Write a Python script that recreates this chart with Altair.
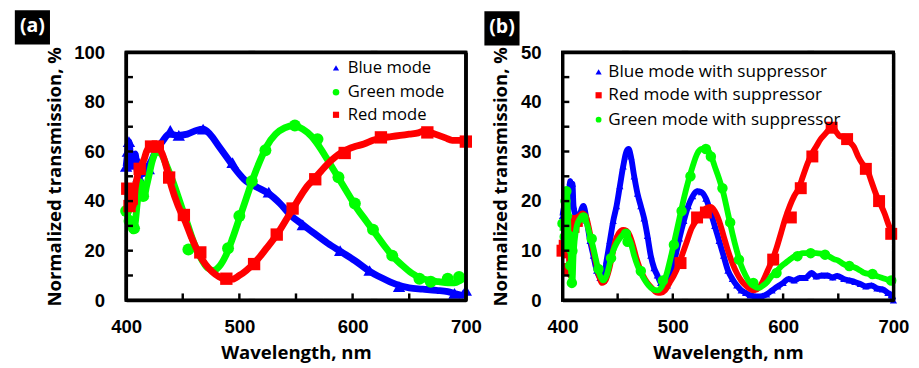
import altair as alt
import pandas as pd

# ---------------- Panel (a) data ----------------
blue_a_line_wl = [400, 401, 402.5, 404, 405, 406.5, 408, 409.5, 411, 414, 418, 422, 426, 432, 438, 446, 454, 462, 468,
                  474, 482, 490, 498, 506, 516, 526, 536, 546, 556, 566, 578, 590, 602, 614, 626, 638, 650, 662, 674,
                  684, 692, 697, 700]
blue_a_line_val = [54, 58, 64, 57, 54, 57, 59, 53, 50, 51, 53, 56, 60, 64, 67, 66.5, 67, 68.5, 69,
                   67, 62, 57, 52, 48, 45.5, 43, 39, 34, 30.5, 27, 23, 19.5, 16, 12, 9, 6.5, 5, 4.5, 4,
                   3.5, 2.5, 2, 3.5]
blue_a_mk_wl = [400, 401.5, 402.5, 404, 406, 408, 411, 415, 420, 439, 446.5, 468, 494, 526, 556, 589, 615, 641, 690, 700]
blue_a_mk_val = [54, 60, 64, 56, 55, 58, 50, 52, 53, 68.5, 66.5, 69, 55.5, 43.6, 30.4, 20, 12, 5.5, 2.8, 4]

green_a_line_wl = [400, 402, 404, 406, 408, 410, 412, 414, 416, 418, 420, 423, 427, 431, 436, 442, 448, 454, 460, 466,
                   472, 477, 482, 488, 494, 500, 506, 512, 518, 524, 532, 540, 548, 556, 564, 572, 580, 588, 596,
                   604, 612, 620, 628, 636, 644, 652, 660, 668, 676, 684, 690, 695, 700]
green_a_line_val = [37, 33, 30, 28, 31, 40, 46, 43, 42, 46, 50, 56, 60, 59, 54, 47, 39, 31, 23, 17,
                    13, 12, 13.5, 18, 25, 33, 41, 49, 56, 62, 67, 69.5, 70.5, 69, 66, 61, 55, 49, 43,
                    37, 32, 27, 22, 17.5, 14, 11, 9, 8, 7.5, 7, 7, 8, 9.5]
green_a_mk_wl = [400, 403, 407, 411, 415, 455, 490, 500, 511, 523, 549, 569, 587.5, 602, 618, 635, 659, 669, 684, 694]
green_a_mk_val = [36, 32, 29, 47, 42, 20.5, 21, 34, 48, 60.5, 70.5, 65, 49.6, 39, 28.5, 18, 8.7, 7.5, 8.7, 9.4]

red_a_line_wl = [400, 401, 402, 403, 404, 405, 406, 407, 408, 410, 412, 414, 416, 418, 420, 424, 428, 432, 436, 440,
                 446, 452, 458, 464, 470, 476, 482, 488, 494, 500, 506, 512, 518, 524, 530, 536, 542, 548, 554,
                 560, 566, 572, 578, 584, 590, 596, 602, 610, 618, 626, 634, 642, 650, 658, 664, 670, 676, 682,
                 688, 694, 700]
red_a_line_val = [44, 46, 42, 40, 43, 41, 38, 40, 45, 50, 53, 55, 57, 60, 61.5, 62, 61.5, 59, 53, 46,
                  38, 32, 25, 19, 14.5, 11.5, 9.5, 8.5, 8.5, 10, 12, 14.5, 17.5, 21, 24.5, 28.5, 33, 37.5, 42,
                  46, 49, 52, 55, 57.5, 59.5, 61, 62, 63, 64.5, 65.5, 66, 66.5, 67, 67.5, 68.5, 67.5, 66.5, 65.5,
                  64.5, 64.5, 64]
red_a_mk_wl = [401, 403, 405, 412, 422, 428, 438, 451, 465.5, 488.5, 513, 533, 547, 567, 593, 625, 666, 700]
red_a_mk_val = [45, 38, 41, 53, 62, 62, 49.5, 34.4, 19.3, 8.7, 14.6, 26.5, 37, 48.8, 59.4, 65.7, 67.7, 64]

# ---------------- Panel (b) data ----------------
blue_b_wl = [400, 402, 404, 405, 406, 407, 408, 409, 410, 412, 414, 416, 419, 422, 425, 428, 431, 434, 437, 440,
             443, 446, 449, 452, 455, 458, 460, 462, 465, 468, 471, 474, 477, 480, 483, 486, 489, 492, 495, 498,
             502, 506, 510, 514, 518, 522, 526, 530, 534, 538, 542, 546, 550, 554, 558, 562, 566, 570, 575, 580,
             585, 590, 595, 600, 605, 610, 615, 620, 626, 630, 635, 640, 645, 649, 655, 660, 665, 670, 675, 680,
             685, 690, 695, 698, 700]
blue_b_val = [17, 19, 14, 20, 22, 24, 20, 23.5, 19, 17, 16, 17.5, 19, 16, 12, 9, 6, 4.5, 4, 8,
              12, 16, 19, 23, 27, 30, 30.5, 29, 25, 21.5, 19, 16.5, 13, 9, 6.5, 5, 3.5, 2.5, 3, 5,
              8.5, 12.5, 16, 19, 21, 22, 21.8, 20.5, 18, 15, 12, 9, 6, 4.3, 3, 2, 1.5, 1, 0.8, 0.8,
              1.2, 2, 2.8, 3.5, 4.3, 4, 4.5, 4.5, 5.5, 4.8, 5, 5, 4.6, 4.9, 4.3, 4, 3.7, 3.3, 2.8, 3,
              2.4, 2.2, 1.5, 1, 0]

red_b_line_wl = [400, 401, 402, 403, 404, 405, 406, 407, 408, 409, 410, 412, 415, 418, 421, 424, 427, 430, 433, 436,
                 439, 442, 445, 448, 451, 455, 458, 461, 464, 467, 470, 473, 477, 481, 485, 489, 493, 497, 501,
                 505, 509, 513, 517, 521, 525, 530, 534, 538, 542, 546, 550, 554, 558, 562, 566, 570, 574, 578,
                 582, 586, 590, 594, 598, 602, 606, 610, 614, 618, 622, 626, 630, 634, 638, 642, 645, 648, 652,
                 656, 660, 664, 668, 672, 676, 680, 684, 688, 692, 696, 700]
red_b_line_val = [10, 12, 9, 13, 11, 15, 8, 5, 9, 13, 15, 16.5, 17, 17.5, 17, 14.5, 11, 8, 5, 3.5,
                  4, 6, 9, 12, 13.5, 14.2, 14, 13, 11, 8.5, 6.5, 5, 3.5, 2.5, 1.6, 1.5, 2, 3.5, 5,
                  7, 9.5, 12, 14.5, 16, 17, 18.5, 18.8, 18, 16, 13, 10, 7.5, 5.5, 4, 3, 2.3, 2, 2.5,
                  4, 6, 8, 10.5, 13.5, 16.5, 19, 21, 22.5, 25, 27.5, 29.5, 31, 32.5, 33.5, 34.5, 34.8, 34, 33,
                  33, 32, 31, 29, 27.5, 26.5, 24, 21.5, 19.5, 17.5, 15, 13]
red_b_mk_wl = [400, 402, 406, 410, 413, 507, 522, 530, 591, 607, 616, 626.5, 644, 658, 675, 687, 698]
red_b_mk_val = [10, 11, 6.3, 14.8, 16, 7.5, 16.7, 17.7, 8.2, 16.7, 22.6, 29, 34.8, 32.5, 26.5, 20, 13.4]

green_b_line_wl = [400, 401, 402, 403, 404, 405, 406, 407, 408, 409, 410, 411, 413, 416, 419, 422, 425, 428, 431, 434,
                   437, 440, 443, 446, 449, 452, 456, 459, 462, 465, 468, 471, 474, 478, 482, 486, 490, 494, 498,
                   502, 506, 510, 514, 518, 522, 526, 530, 534, 538, 542, 546, 550, 554, 558, 562, 566, 570, 574,
                   578, 582, 586, 590, 594, 598, 602, 606, 610, 614, 618, 622, 626, 630, 634, 638, 642, 646, 650,
                   654, 658, 662, 666, 670, 674, 678, 682, 686, 690, 694, 698, 700]
green_b_line_val = [14, 16, 12, 20, 22, 17, 10, 12, 5, 3.5, 9, 12, 15, 16.5, 17, 15.5, 13, 10.5, 7.5, 5,
                    4, 5, 7.5, 10, 11.5, 12.5, 13.4, 13, 11.5, 9, 7, 5.5, 4.3, 3, 2.2, 2, 2.8, 5, 8.5,
                    12.5, 16.5, 20.5, 24, 27, 29.5, 30.5, 30.5, 29.5, 27, 24.5, 21.5, 17.5, 13.5, 10, 7, 5, 3.5, 2.8,
                    2.5, 3, 3.8, 5, 5.8, 6.8, 7.5, 8.2, 8.8, 9.2, 9.5, 9.5, 9.5, 9.5, 9.4, 9.2, 8.8, 8.3, 8,
                    7.4, 7, 6.8, 6.5, 6, 5.5, 5.3, 5, 4.8, 4.5, 4.2, 4, 4]
green_b_mk_wl = [400, 402, 402.7, 403.5, 404, 405, 406, 407, 408.5, 409, 419, 426.5, 432.6, 444, 457.5, 459, 471,
                 491, 501, 508, 516, 530, 534.5, 545, 552, 560, 573, 594, 613, 625, 638, 660, 681, 698]
green_b_mk_val = [15.5, 12.8, 20, 22, 17, 10.8, 13, 7, 3.5, 10, 16.7, 12.4, 6.3, 8.5, 13.4, 11.8, 5.9,
                  4, 11.2, 18, 25, 30.5, 29, 22.6, 15.7, 8.2, 3.5, 5.5, 8.9, 9.5, 9.2, 6.9, 5.3, 4]

# ---------------- Axes / labels ----------------
a_y_ticks = [10, 20, 30, 40, 50, 60, 70, 80, 90]
b_y_ticks = [5, 10, 15, 20, 25, 30, 35, 40, 45]
x_ticks = [450, 500, 550, 600, 650]
a_y_labels = [0, 20, 40, 60, 80, 100]
b_y_labels = [0, 10, 20, 30, 40, 50]
x_labels = [400, 500, 600, 700]

a_legend = ["Blue mode", "Green mode", "Red mode"]
b_legend = ["Blue mode with suppressor", "Red mode with suppressor", "Green mode with suppressor"]
x_title = "Wavelength, nm"
y_title = "Normalized transmission, %"

BLUE, GREEN, RED = "#0000FF", "#00FF00", "#FF0000"
TITLE_FONT = "Open Sans"
LABEL_FONT = "Liberation Sans"
FRAME_W = 3


def xaxis(vals):
    return alt.Axis(values=vals, ticks=False, tickSize=0, domain=True, domainColor="black",
                    domainWidth=FRAME_W, grid=False, zindex=1,
                    labelFont=LABEL_FONT, labelFontWeight="bold", labelFontSize=19, labelColor="black",
                    labelPadding=18, labelFlush=False, title=x_title, titleFont=TITLE_FONT,
                    titleFontSize=19, titleFontWeight="bold", titleColor="black", titlePadding=8)


def yaxis(vals):
    return alt.Axis(values=vals, ticks=False, tickSize=0, domain=True, domainColor="black",
                    domainWidth=FRAME_W, grid=False, zindex=1,
                    labelFont=LABEL_FONT, labelFontWeight="bold", labelFontSize=19, labelColor="black",
                    labelPadding=22, labelFlush=False, title=y_title, titleFont=TITLE_FONT,
                    titleFontSize=19, titleFontWeight="bold", titleColor="black", titlePadding=10)


def frame_axis(orient):
    return alt.Axis(orient=orient, labels=False, ticks=False, tickSize=0, grid=False, title=None,
                    domain=True, domainColor="black", domainWidth=FRAME_W, zindex=1)


def panel(series, xdom, ydom, ylabels, yticks, width, height, legend_items, legend_pos, tag, tag_pos):
    xs = alt.Scale(domain=xdom, nice=False, zero=False)
    ys = alt.Scale(domain=ydom, nice=False, zero=False)

    def X(axis=None, field="wl"):
        return alt.X(field + ":Q", scale=xs, axis=axis)

    def Y(axis=None, field="val"):
        return alt.Y(field + ":Q", scale=ys, axis=axis)

    layers = []
    first = True
    for (lwl, lval, mwl, mval, color, shape, msize, lwidth) in series:
        ldf = pd.DataFrame({"wl": lwl, "val": lval})
        mdf = pd.DataFrame({"wl": mwl, "val": mval})
        if first:
            xe, ye = X(xaxis(x_labels)), Y(yaxis(ylabels))
            first = False
        else:
            xe, ye = X(), Y()
        layers.append(alt.Chart(ldf).mark_line(color=color, strokeWidth=lwidth, interpolate="monotone")
                      .encode(x=xe, y=ye))
        layers.append(alt.Chart(mdf).mark_point(color=color, fill=color, filled=True, opacity=1,
                                                shape=shape, size=msize)
                      .encode(x=X(), y=Y()))
    # top / right frame lines as extra axis domains
    edge = pd.DataFrame({"wl": [xdom[0]], "val": [ydom[0]]})
    layers.append(alt.Chart(edge).mark_point(opacity=0)
                  .encode(x=X(frame_axis("top")), y=Y(frame_axis("right"))))
    # plot-area border as a closed path through the domain corners
    border = pd.DataFrame({"wl": [xdom[0], xdom[1], xdom[1], xdom[0], xdom[0]],
                           "val": [ydom[0], ydom[0], ydom[1], ydom[1], ydom[0]],
                           "o": [0, 1, 2, 3, 4]})
    layers.append(alt.Chart(border).mark_line(color="black", strokeWidth=FRAME_W, strokeCap="square",
                                              strokeJoin="miter")
                  .encode(x=X(), y=Y(), order="o:Q"))
    # border again as short touching segments (same scale edges, split into pieces)
    nx, ny = 50, 40
    xstep = (xdom[1] - xdom[0]) / nx
    ystep = (ydom[1] - ydom[0]) / ny
    hseg = pd.DataFrame({"wl": [xdom[0] + i * xstep for i in range(nx)],
                         "wl2": [xdom[0] + (i + 1) * xstep for i in range(nx)]})
    vseg = pd.DataFrame({"val": [ydom[0] + i * ystep for i in range(ny)],
                         "val2": [ydom[0] + (i + 1) * ystep for i in range(ny)]})
    t = FRAME_W / 2
    for (ya, yb) in [(-t, t), (height - t, height + t)]:
        layers.append(alt.Chart(hseg).mark_rect(color="black", opacity=1)
                      .encode(x=X(), x2=alt.X2("wl2"), y=alt.value(ya), y2=alt.value(yb)))
    for (xa, xb) in [(-t, t), (width - t, width + t)]:
        layers.append(alt.Chart(vseg).mark_rect(color="black", opacity=1)
                      .encode(y=Y(), y2=alt.Y2("val2"), x=alt.value(xa), x2=alt.value(xb)))
    # inward ticks
    ydf = pd.DataFrame({"val": yticks})
    layers.append(alt.Chart(ydf).mark_rule(color="black", strokeWidth=2.5)
                  .encode(y=Y(), x=alt.value(0), x2=alt.value(7)))
    xdf = pd.DataFrame({"wl": x_ticks})
    layers.append(alt.Chart(xdf).mark_rule(color="black", strokeWidth=2.5)
                  .encode(x=X(), y=alt.value(height), y2=alt.value(height - 7)))
    # legend
    lx, tx, rows, fs = legend_pos
    for (label, color, shape, size), ry in zip(legend_items, rows):
        d = pd.DataFrame({"label": [label]})
        layers.append(alt.Chart(d).mark_point(color=color, fill=color, filled=True, opacity=1,
                                              shape=shape, size=size)
                      .encode(x=alt.value(lx), y=alt.value(ry)))
        layers.append(alt.Chart(d).mark_text(align="left", baseline="middle", font=TITLE_FONT,
                                             fontSize=fs, color="black")
                      .encode(x=alt.value(tx), y=alt.value(ry), text="label:N"))
    # panel tag
    bx0, by0 = tag_pos
    td = pd.DataFrame({"tag": [tag]})
    layers.append(alt.Chart(td).mark_rect(color="black")
                  .encode(x=alt.value(bx0), x2=alt.value(bx0 + 36), y=alt.value(by0), y2=alt.value(by0 + 35)))
    layers.append(alt.Chart(td).mark_text(color="white", font=TITLE_FONT, fontWeight="bold", fontSize=20,
                                          align="center", baseline="middle")
                  .encode(x=alt.value(bx0 + 18), y=alt.value(by0 + 16), text="tag:N"))
    return (alt.layer(*layers).properties(width=width, height=height)
            .resolve_axis(x="independent", y="independent"))


series_a = [
    (blue_a_line_wl, blue_a_line_val, blue_a_mk_wl, blue_a_mk_val, BLUE, "triangle-up", 160, 7),
    (green_a_line_wl, green_a_line_val, green_a_mk_wl, green_a_mk_val, GREEN, "circle", 150, 7),
    (red_a_line_wl, red_a_line_val, red_a_mk_wl, red_a_mk_val, RED, "square", 160, 7),
]
series_b = [
    (blue_b_wl, blue_b_val, blue_b_wl, blue_b_val, BLUE, "triangle-up", 55, 6),
    (red_b_line_wl, red_b_line_val, red_b_mk_wl, red_b_mk_val, RED, "square", 150, 6),
    (green_b_line_wl, green_b_line_val, green_b_mk_wl, green_b_mk_val, GREEN, "circle", 115, 6),
]

legend_a = [(a_legend[0], BLUE, "triangle-up", 40), (a_legend[1], GREEN, "circle", 45),
            (a_legend[2], RED, "square", 40)]
legend_b = [(b_legend[0], BLUE, "triangle-up", 40), (b_legend[1], RED, "square", 40),
            (b_legend[2], GREEN, "circle", 35)]

pa = panel(series_a, [400, 700], [0, 100], a_y_labels, a_y_ticks, 348, 254, legend_a,
           (215, 227, [16, 41, 64], 17), "(a)", (-114, -43))
pb = panel(series_b, [400, 700], [0, 50], b_y_labels, b_y_ticks, 339, 254, legend_b,
           (37, 47, [20, 44, 69], 17.5), "(b)", (-80, -42))

chart = (alt.hconcat(pa, pb, spacing=99, bounds="flush")
         .properties(padding={"left": 5, "top": -4, "right": 0, "bottom": 0}, background="white")
         .configure_view(stroke="black", strokeWidth=3))

chart.save("out.html", embed_options={"renderer": "svg", "actions": False})
